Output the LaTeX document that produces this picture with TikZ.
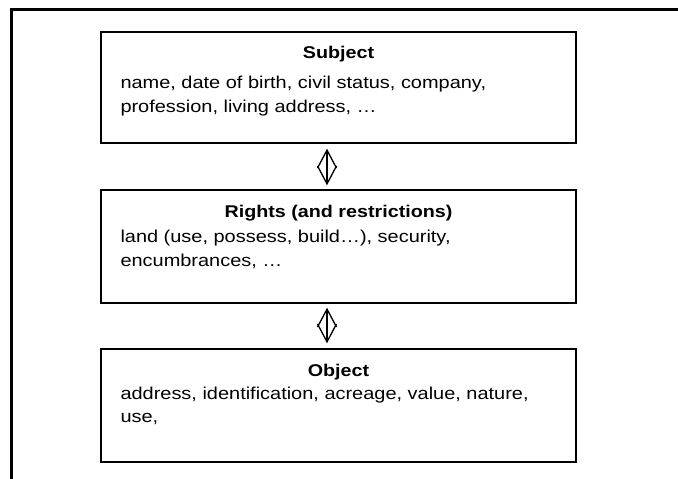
\documentclass[tikz,border=0pt]{standalone}
\usepackage{fontspec}
\setmainfont[FakeStretch=1.16]{Liberation Sans}
\usetikzlibrary{arrows.meta}

\tikzset{
  infobox/.style={draw, line width=1.4pt, minimum width=475pt, minimum height=112pt, inner sep=0pt},
  boxtitle/.style={anchor=base, inner sep=0pt, font=\fontsize{17}{20}\selectfont\bfseries},
  boxline/.style={anchor=base west, inner sep=0pt, font=\fontsize{17.2}{20}\selectfont},
  link/.style={line width=1.3pt, {Straight Barb[length=18pt,width=19pt]}-{Straight Barb[length=18pt,width=19pt]}},
  frameline/.style={line width=2.2pt}
}

\begin{document}
\begin{tikzpicture}[x=1pt,y=-1pt]
  \useasboundingbox (0,0) rectangle (678,479);

  % page frame (top and left edges)
  \draw[frameline] (678,9.5) -- (11.5,9.5) -- (11.5,479);

  % the three boxes
  \node[infobox, minimum height=111pt] (subj) at (338.5,87.5) {};
  \node[infobox, minimum height=113pt] (rights) at (338.5,246.5) {};
  \node[infobox, minimum height=113pt] (obj) at (338.5,405.5) {};

  % Subject
  \node[boxtitle] (subjT) at ([yshift=-27pt]subj.north) {Subject};
  \node[boxline] (subjA) at ([xshift=20pt,yshift=-57pt]subj.north west) {name, date of birth, civil status, company,};
  \node[boxline] (subjB) at ([xshift=20pt,yshift=-81pt]subj.north west) {profession, living address, …};

  % Rights
  \node[boxtitle] (rightsT) at ([yshift=-28pt]rights.north) {Rights (and restrictions)};
  \node[boxline] (rightsA) at ([xshift=20pt,yshift=-53pt]rights.north west) {land (use, possess, build…), security,};
  \node[boxline] (rightsB) at ([xshift=20pt,yshift=-77pt]rights.north west) {encumbrances, …};

  % Object
  \node[boxtitle] (objT) at ([yshift=-28pt]obj.north) {Object};
  \node[boxline] (objA) at ([xshift=20pt,yshift=-51pt]obj.north west) {address, identification, acreage, value, nature,};
  \node[boxline] (objB) at ([xshift=20pt,yshift=-74pt]obj.north west) {use,};

  % double-headed links between the boxes
  \draw[link, shorten <=5pt, shorten >=4pt] ([xshift=-11.5pt]subj.south) -- ([xshift=-11.5pt]rights.north);
  \draw[link, shorten <=4pt, shorten >=5pt] ([xshift=-11.5pt]rights.south) -- ([xshift=-11.5pt]obj.north);
\end{tikzpicture}
\end{document}
